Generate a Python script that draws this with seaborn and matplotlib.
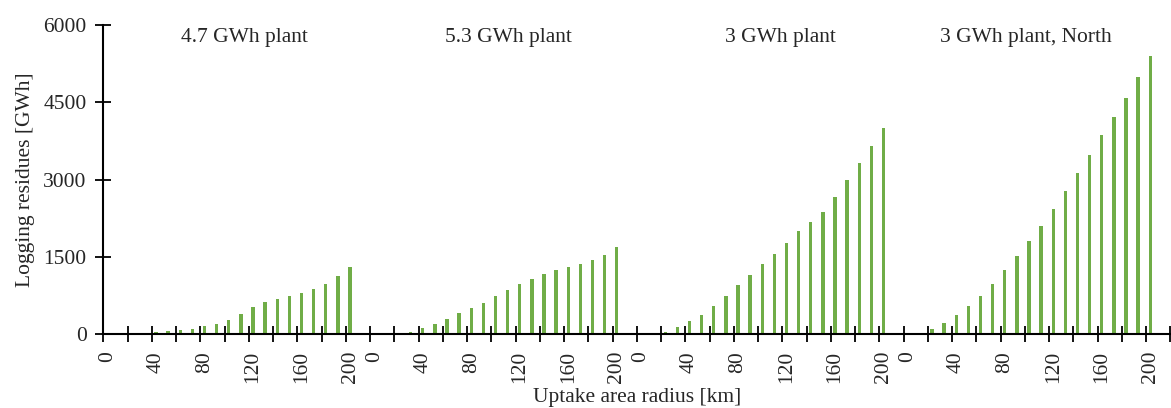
import numpy as np
import pandas as pd
import matplotlib
matplotlib.use("Agg")
import matplotlib.pyplot as plt
from matplotlib.ticker import FixedLocator
import seaborn as sns

# radius categories (km) and logging residues (GWh) per plant
radius = list(range(0, 201, 10))
plants = ["4.7 GWh plant", "5.3 GWh plant", "3 GWh plant", "3 GWh plant, North"]
plant_47 = [0, 0, 0, 20, 40, 55, 80, 110, 155, 207, 285, 400, 530, 627, 685,
            743, 795, 879, 983, 1125, 1310]
plant_53 = [0, 0, 13, 45, 123, 200, 304, 407, 511, 614, 750, 866, 970, 1073,
            1164, 1241, 1300, 1358, 1435, 1545, 1690]
plant_3 = [0, 0, 52, 136, 259, 375, 550, 744, 950, 1151, 1364, 1565, 1771,
           1998, 2179, 2372, 2660, 2985, 3330, 3645, 4000]
plant_3n = [0, 5, 97, 220, 375, 550, 750, 976, 1241, 1513, 1804, 2095, 2430,
            2780, 3129, 3485, 3866, 4222, 4583, 4991, 5405]
series = [plant_47, plant_53, plant_3, plant_3n]
y_ticks = [0, 1500, 3000, 4500, 6000]
label_radius = [0, 40, 80, 120, 160, 200]

# each plant block takes 21 radius slots plus one empty slot
block = len(radius) + 1
rows = []
for g, (name, vals) in enumerate(zip(plants, series)):
    for j, (r, v) in enumerate(zip(radius, vals)):
        rows.append({"plant": name, "radius": r, "value": v, "slot": g * block + j})
df = pd.DataFrame(rows)
n_slots = block * len(plants)

sns.set_style("ticks")
plt.rcParams["font.family"] = ["Liberation Serif", "DejaVu Serif"]
plt.rcParams["xtick.direction"] = "inout"
plt.rcParams["ytick.direction"] = "inout"
fs = 15.5

fig = plt.figure(figsize=(11.71, 4.08), dpi=100)
ax = fig.add_axes([103.3 / 1171, 73.7 / 408, 1067 / 1171, 309.3 / 408])

sns.barplot(data=df, x="slot", y="value", order=list(range(n_slots)),
            color="#70AD47", saturation=1, width=0.28, linewidth=0, ax=ax)

ax.set_xlim(-0.35, n_slots - 0.35)
ax.set_ylim(0, 6000)
ax.set_yticks(y_ticks)
ax.set_yticklabels([str(t) for t in y_ticks], fontsize=fs)

major = [g * block + radius.index(r) for g in range(len(plants)) for r in label_radius]
ax.xaxis.set_major_locator(FixedLocator(major))
ax.set_xticklabels([str(r) for _ in plants for r in label_radius],
                   rotation=90, fontsize=fs)
ax.xaxis.set_minor_locator(FixedLocator([-0.35 + 2 * k for k in range(n_slots // 2 + 1)]))
ax.tick_params(axis="x", which="major", length=0, pad=12)
ax.tick_params(axis="x", which="minor", direction="inout", length=12, width=1.3,
               color="black")
ax.tick_params(axis="y", direction="inout", length=12, width=1.3, color="black",
               pad=6)

for side in ["top", "right"]:
    ax.spines[side].set_visible(False)
for side in ["left", "bottom"]:
    ax.spines[side].set_linewidth(1.5)
    ax.spines[side].set_color("black")

title_x = [11.26, 11.03, 11.5, 9.74]
for g, name in enumerate(plants):
    ax.text(g * block + title_x[g], 5750, name, ha="center", va="center",
            fontsize=fs)

ax.set_xlabel("Uptake area radius [km]", fontsize=fs, labelpad=3)
ax.set_ylabel("Logging residues [GWh]", fontsize=fs, labelpad=6)

fig.savefig("out.png", dpi=100)
